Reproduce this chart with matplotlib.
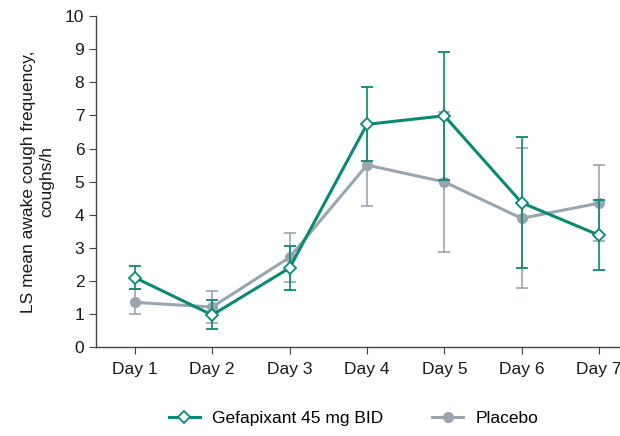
import numpy as np
import matplotlib
matplotlib.use("Agg")
import matplotlib.pyplot as plt
from matplotlib.lines import Line2D

plt.rcParams['font.family'] = ['Liberation Sans', 'DejaVu Sans']

# data
days = ['Day 1', 'Day 2', 'Day 3', 'Day 4', 'Day 5', 'Day 6', 'Day 7']
gef_mean = [2.10, 0.97, 2.39, 6.73, 6.99, 4.36, 3.38]
gef_upper = [2.45, 1.42, 3.05, 7.85, 8.93, 6.34, 4.45]
gef_lower = [1.75, 0.54, 1.72, 5.61, 5.05, 2.38, 2.32]
pla_mean = [1.35, 1.21, 2.71, 5.50, 4.99, 3.89, 4.35]
pla_upper = [1.74, 1.69, 3.46, 6.74, 7.11, 6.03, 5.49]
pla_lower = [0.99, 0.73, 1.97, 4.26, 2.87, 1.77, 3.20]

green = '#0a8a74'
grey = '#9ba5b0'

x = np.arange(1, len(days) + 1)

fig = plt.figure(figsize=(6.2, 4.36), dpi=100)
ax = fig.add_axes([0.155, 0.204, 0.845, 0.759])

pla_err = [np.array(pla_mean) - np.array(pla_lower), np.array(pla_upper) - np.array(pla_mean)]
gef_err = [np.array(gef_mean) - np.array(gef_lower), np.array(gef_upper) - np.array(gef_mean)]

ax.errorbar(x, pla_mean, yerr=pla_err, color=grey, lw=2.2, marker='o', ms=7,
            mfc=grey, mec=grey, ecolor=grey, elinewidth=1.2, capsize=4, capthick=1.2,
            zorder=2)
ax.errorbar(x, gef_mean, yerr=gef_err, color=green, lw=2.2, marker='D', ms=6,
            mfc='white', mec=green, mew=1.3, ecolor=green, elinewidth=1.2, capsize=4,
            capthick=1.2, zorder=3)

# the last tick label is cut by the figure edge, as in the source image
ax.set_xlim(0.5, 7.27)
ax.set_ylim(0, 10)
ax.set_yticks(range(0, 11))
ax.set_xticks(x)
ax.set_xticklabels(days)
ax.spines['top'].set_visible(False)
ax.spines['right'].set_visible(False)
for s in ['left', 'bottom']:
    ax.spines[s].set_color('#444444')
    ax.spines[s].set_linewidth(1.0)
ax.tick_params(axis='both', colors='#444444', labelcolor='#1a1a1a', labelsize=12.5, length=5)
ax.tick_params(axis='x', pad=6)
ax.set_ylabel('LS mean awake cough frequency,\ncoughs/h', fontsize=12.5, color='#1a1a1a', labelpad=8)

handles = [
    Line2D([], [], color=green, lw=2.2, marker='D', ms=6, mfc='white', mec=green, mew=1.3),
    Line2D([], [], color=grey, lw=2.2, marker='o', ms=7, mfc=grey, mec=grey),
]
fig.legend(handles, ['Gefapixant 45 mg BID', 'Placebo'], loc='center',
           bbox_to_anchor=(0.57, 0.04), ncol=2, frameon=False, fontsize=12.5,
           columnspacing=2.8, handlelength=1.8, handletextpad=0.7)

fig.savefig('out.png', dpi=100)
